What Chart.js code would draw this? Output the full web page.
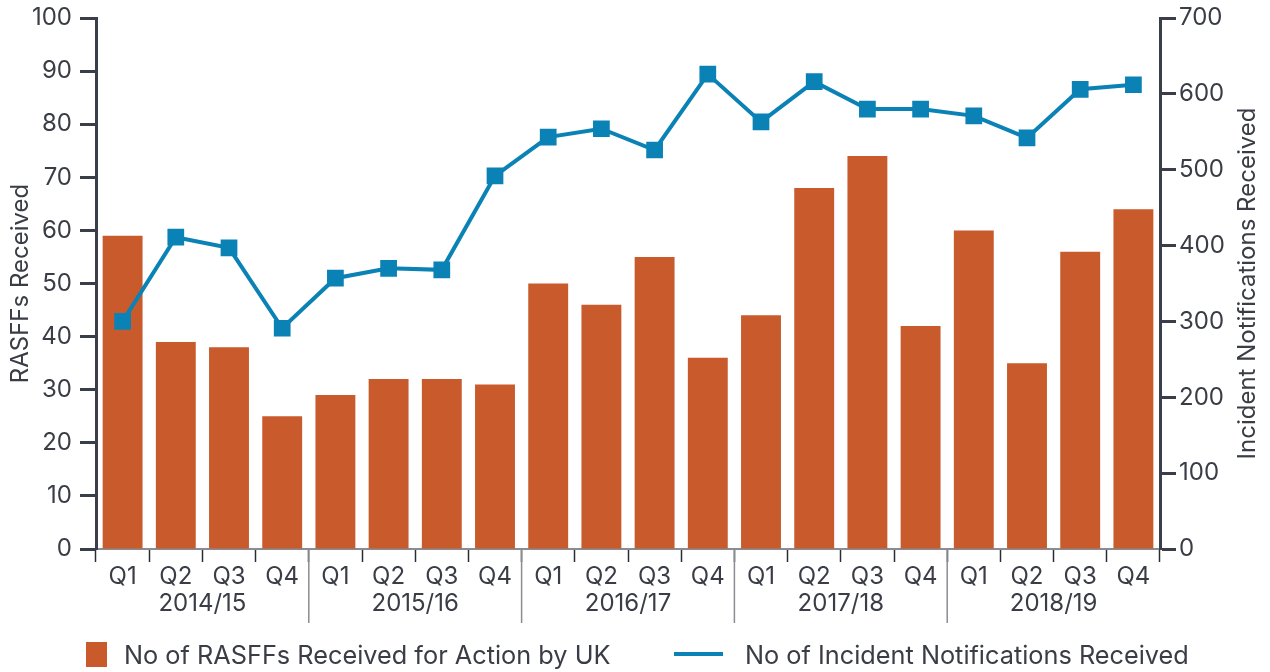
<!DOCTYPE html>
<html>
<head>
<meta charset="utf-8">
<script src="https://cdn.jsdelivr.net/npm/chart.js@4.4.1/dist/chart.umd.min.js"></script>
<style>
    html, body { margin: 0; padding: 0; background: #fff; }
    #wrap { position: relative; width: 1270px; height: 672px; }
    #chart-box { position: absolute; left: 0; top: 0; width: 1270px; height: 640px; }
    #legend { position: absolute; left: 0; top: 638px; width: 1270px; height: 32px;
              font-family: Inter, sans-serif; font-size: 25.3px; color: #3a3d46; }
    .item { position: absolute; top: 0; display: flex; align-items: center; height: 32px; }
    .swatch-bar { width: 21px; height: 25px; background: #c95a2c; margin-right: 17px; }
    .swatch-line { width: 49px; height: 4px; background: #0b82b5; margin-right: 22px; }
</style>
</head>
<body>
<div id="wrap">
    <div id="chart-box"><canvas id="chart"></canvas></div>
    <div id="legend">
        <div class="item" style="left:86px"><span class="swatch-bar"></span>No of RASFFs Received for Action by UK</div>
        <div class="item" style="left:674px"><span class="swatch-line"></span>No of Incident Notifications Received</div>
    </div>
</div>
<script>
const quarters = ['Q1', 'Q2', 'Q3', 'Q4', 'Q1', 'Q2', 'Q3', 'Q4', 'Q1', 'Q2', 'Q3', 'Q4',
                  'Q1', 'Q2', 'Q3', 'Q4', 'Q1', 'Q2', 'Q3', 'Q4'];
const years = ['2014/15', '2015/16', '2016/17', '2017/18', '2018/19'];
const rasffs = [59, 39, 38, 25, 29, 32, 32, 31, 50, 46, 55, 36, 44, 68, 74, 42, 60, 35, 56, 64];
const incidents = [300, 411, 397, 291, 357, 370, 368, 492, 543, 554, 526, 626,
                   563, 616, 580, 580, 571, 542, 606, 612];

const textColor = '#3a3d46';
const axisColor = '#3a3e48';
const fontFamily = 'Inter, sans-serif';

// year labels under the quarters, separators between years, right-hand title
const yearGroups = {
    id: 'yearGroups',
    afterDraw(chart) {
        const { ctx, scales } = chart;
        const x = scales.x;
        const bottom = chart.chartArea.bottom;
        ctx.save();
        ctx.font = '24px ' + fontFamily;
        ctx.fillStyle = textColor;
        ctx.textAlign = 'center';
        ctx.textBaseline = 'middle';
        years.forEach((yr, i) => {
            const cx = (x.getPixelForValue(i * 4) + x.getPixelForValue(i * 4 + 3)) / 2;
            ctx.fillText(yr, cx, 604);
            if (i < years.length - 1) {
                const sx = (x.getPixelForValue(i * 4 + 3) + x.getPixelForValue(i * 4 + 4)) / 2;
                ctx.strokeStyle = '#8a8c92';
                ctx.lineWidth = 1.5;
                ctx.beginPath();
                ctx.moveTo(sx, bottom);
                ctx.lineTo(sx, 623);
                ctx.stroke();
            }
        });
        // right title reads bottom-to-top like the left one
        ctx.translate(1248, (chart.chartArea.top + bottom) / 2);
        ctx.rotate(-Math.PI / 2);
        ctx.fillText('Incident Notifications Received', 0, 0);
        ctx.restore();
    }
};

new Chart(document.getElementById('chart'), {
    data: {
        labels: quarters,
        datasets: [
            {
                type: 'line',
                label: 'No of Incident Notifications Received',
                data: incidents,
                yAxisID: 'y1',
                borderColor: '#0b82b5',
                backgroundColor: '#0b82b5',
                borderWidth: 4,
                pointStyle: 'rect',
                pointRadius: 9,
                pointHoverRadius: 9,
                tension: 0,
                order: 0
            },
            {
                type: 'bar',
                label: 'No of RASFFs Received for Action by UK',
                data: rasffs,
                yAxisID: 'y',
                backgroundColor: '#c95a2c',
                categoryPercentage: 1,
                barPercentage: 0.75,
                order: 1
            }
        ]
    },
    options: {
        responsive: true,
        maintainAspectRatio: false,
        animation: false,
        layout: { padding: { top: 18, left: 0, right: 0, bottom: 0 } },
        plugins: {
            legend: { display: false },
            tooltip: { enabled: false }
        },
        scales: {
            x: {
                offset: true,
                grid: {
                    offset: true,
                    drawOnChartArea: false,
                    drawTicks: true,
                    tickLength: 13,
                    tickWidth: 1.5,
                    tickColor: '#2a2c33'
                },
                border: { color: '#8a8c92', width: 2 },
                ticks: {
                    color: textColor,
                    font: { family: fontFamily, size: 24 },
                    padding: 0,
                    maxRotation: 0,
                    autoSkip: false
                },
                afterFit(scale) { scale.height = 91; }
            },
            y: {
                position: 'left',
                min: 0,
                max: 100,
                ticks: {
                    stepSize: 10,
                    color: textColor,
                    font: { family: fontFamily, size: 24, lineHeight: 0.8 },
                    padding: 8
                },
                grid: {
                    drawOnChartArea: false,
                    tickLength: 16,
                    tickWidth: 3,
                    tickColor: axisColor
                },
                border: { color: axisColor, width: 3 },
                title: {
                    display: true,
                    text: 'RASFFs Received',
                    color: textColor,
                    font: { family: fontFamily, size: 24 },
                    padding: { top: 6, bottom: 0 }
                },
                afterFit(scale) { scale.width = 96; }
            },
            y1: {
                position: 'right',
                min: 0,
                max: 700,
                ticks: {
                    stepSize: 100,
                    color: textColor,
                    font: { family: fontFamily, size: 24, lineHeight: 0.8 },
                    padding: 3
                },
                grid: {
                    drawOnChartArea: false,
                    tickLength: 16,
                    tickWidth: 3,
                    tickColor: axisColor
                },
                border: { color: axisColor, width: 3 },
                afterFit(scale) { scale.width = 110; }
            }
        }
    },
    plugins: [yearGroups]
});
</script>
</body>
</html>
